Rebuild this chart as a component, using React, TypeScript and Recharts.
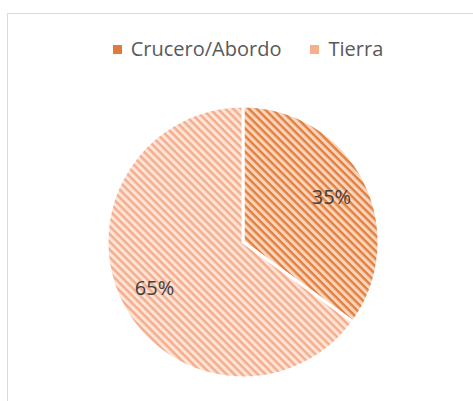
import { PieChart, Pie, Cell, Legend } from "recharts";

const categories = ["Crucero/Abordo", "Tierra"];
const shares = [35, 65];

const swatchColors = ["#E07B39", "#F4B08A"];
const patternIds = ["stripeCrucero", "stripeTierra"];

const data = categories.map((name, i) => ({ name, value: shares[i] }));

const RADIAN = Math.PI / 180;

function renderLabel(props: any) {
  const { cx, cy, midAngle, outerRadius, percent } = props;
  const r = outerRadius * 0.73;
  const x = cx + r * Math.cos(-midAngle * RADIAN);
  const y = cy + r * Math.sin(-midAngle * RADIAN);
  return (
    <text
      x={x}
      y={y}
      fill="#404040"
      fontSize={20}
      fontFamily="'Open Sans', sans-serif"
      textAnchor="middle"
      dominantBaseline="central"
    >
      {`${Math.round(percent * 100)}%`}
    </text>
  );
}

function LegendContent() {
  return (
    <div
      style={{
        display: "flex",
        justifyContent: "center",
        alignItems: "center",
        gap: 29,
        fontFamily: "'Open Sans', sans-serif",
        fontSize: 20,
        color: "#595959",
        lineHeight: "24px",
      }}
    >
      {categories.map((c, i) => (
        <div key={c} style={{ display: "flex", alignItems: "center" }}>
          <span
            style={{
              display: "inline-block",
              width: 9,
              height: 9,
              marginRight: 9,
              background: swatchColors[i],
            }}
          />
          <span>{c}</span>
        </div>
      ))}
    </div>
  );
}

export default function App() {
  return (
    <div
      style={{
        position: "fixed",
        left: 7,
        top: 13,
        width: 480,
        height: 400,
        border: "1px solid #d9d9d9",
        background: "#fff",
      }}
    >
      <PieChart width={480} height={400}>
        <defs>
          <pattern
            id={patternIds[0]}
            width={5.5}
            height={5.5}
            patternUnits="userSpaceOnUse"
            patternTransform="rotate(45)"
          >
            <rect width={5.5} height={5.5} fill="#F8D5BC" />
            <rect y={0} width={5.5} height={2.4} fill="#E27F3E" />
          </pattern>
          <pattern
            id={patternIds[1]}
            width={5.5}
            height={5.5}
            patternUnits="userSpaceOnUse"
            patternTransform="rotate(45)"
          >
            <rect width={5.5} height={5.5} fill="#FCE4D6" />
            <rect y={0} width={5.5} height={2.4} fill="#F5AC8C" />
          </pattern>
        </defs>
        <Legend
          verticalAlign="top"
          content={<LegendContent />}
          wrapperStyle={{ top: 23, left: 0, width: 480 }}
        />
        <Pie
          data={data}
          dataKey="value"
          nameKey="name"
          cx={230}
          cy={199}
          outerRadius={136}
          startAngle={90}
          endAngle={-270}
          stroke="#ffffff"
          strokeWidth={3}
          label={renderLabel}
          labelLine={false}
          isAnimationActive={false}
        >
          {data.map((d, i) => (
            <Cell key={d.name} fill={`url(#${patternIds[i]})`} />
          ))}
        </Pie>
      </PieChart>
    </div>
  );
}
